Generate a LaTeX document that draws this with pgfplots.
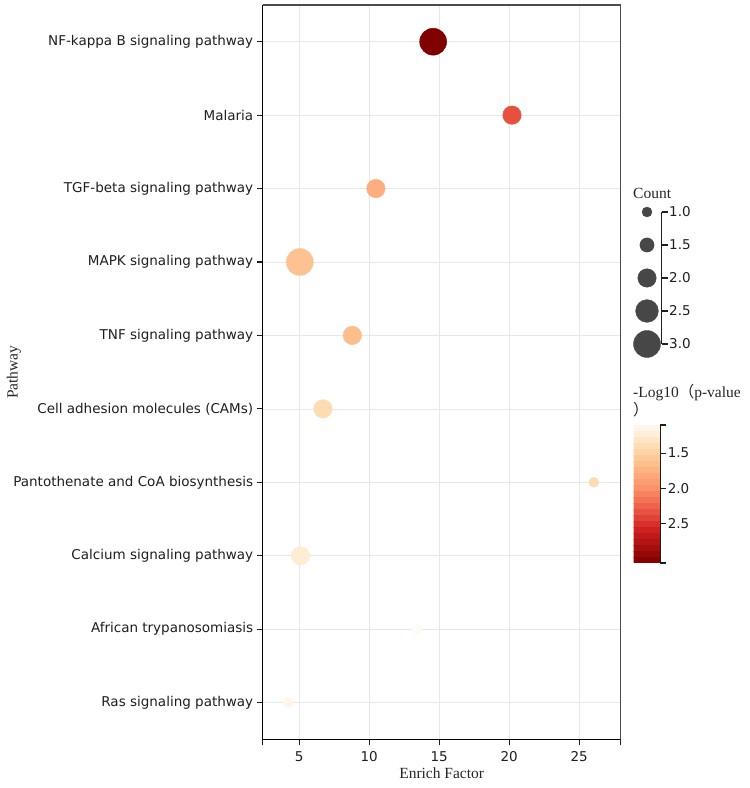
\documentclass[border=0pt]{standalone}
\usepackage{pgfplots}
\pgfplotsset{compat=1.18}
\usepackage{fontspec}
\setmainfont{Liberation Serif}
\newfontfamily\dejavu{DejaVu Sans}
\newfontfamily\cjk{Noto Sans CJK SC}
\pgfplotsset{
  colormap={orrd}{rgb255(0)=(255,250,243) rgb255(30)=(254,222,180) rgb255(60)=(253,185,135) rgb255(90)=(250,145,105) rgb255(120)=(236,90,70) rgb255(150)=(205,30,30) rgb255(196)=(128,0,0)}
}
\definecolor{gridc}{RGB}{232,232,232}
\definecolor{tickc}{RGB}{30,30,30}
\begin{document}
\begin{tikzpicture}
\path[use as bounding box] (0,0) rectangle (750pt,788pt);
\begin{axis}[
  at={(262.7pt,48.7pt)}, anchor=south west,
  scale only axis, width=358pt, height=734.3pt,
  xmin=2.4, xmax=27.96, ymin=-0.5, ymax=9.5,
  axis lines*=left,
  axis line style={black, line width=1.4pt},
  xtick={5,10,15,20,25},
  extra x ticks={2.4,27.96}, extra x tick labels={},
  extra x tick style={grid=none},
  ytick={0,...,9},
  yticklabels={Ras signaling pathway, African trypanosomiasis, Calcium signaling pathway, Pantothenate and CoA biosynthesis, Cell adhesion molecules (CAMs), TNF signaling pathway, MAPK signaling pathway, TGF-beta signaling pathway, Malaria, NF-kappa B signaling pathway},
  grid=major, grid style={gridc, line width=0.6pt},
  tick align=outside,
  major tick length=6pt,
  tick style={tickc, line width=1.2pt},
  ticklabel style={font=\dejavu\fontsize{13.5}{15}\selectfont, text=tickc},
  xticklabel style={yshift=-3pt},
  /pgf/number format/assume math mode=true,
  xlabel={Enrich Factor}, ylabel={Pathway},
  every axis x label/.style={at={(rel axis cs:0.5,0)}, yshift=-34pt, anchor=center, font=\fontsize{15.5}{17}\selectfont, text=black!85},
  every axis y label/.style={at={(rel axis cs:0,0.5)}, xshift=-248.7pt, rotate=90, anchor=center, font=\fontsize{15.5}{17}\selectfont, text=black!85},
  colormap name=orrd,
  point meta min=1.1, point meta max=3.06,
  colorbar sampled,
  colorbar style={
    at={(parent axis.north east)}, anchor=north west,
    xshift=4.3pt, yshift=-420pt,
    scale only axis, width=26.7pt, height=138pt,
    samples=24,
    y dir=reverse,
    ytick={1.5,2,2.5},
    extra y ticks={1.1,3.06}, extra y tick labels={},
    ytick pos=right,
    axis line style={draw=none},
    tick align=outside, major tick length=6pt,
    tick style={tickc, line width=1.2pt},
    yticklabel style={font=\dejavu\fontsize{13.5}{15}\selectfont, text=tickc, xshift=-2pt, /pgf/number format/fixed, /pgf/number format/precision=1, /pgf/number format/fixed zerofill},
    /pgf/number format/assume math mode=true,
    extra description/.code={\draw[tickc, line width=1.2pt] (rel axis cs:1,0)--(rel axis cs:1,1);},
  },
  clip=false,
]
\addplot[scatter, only marks, mark=*,
  point meta=explicit,
  scatter/use mapped color={draw=mapped color, fill=mapped color},
  visualization depends on={\thisrow{c} \as \cnt},
  scatter/@pre marker code/.append style={/tikz/mark size={0.75+4.25*\cnt}}]
  table[x=x, y=y, meta=p] {
x y c p
14.57 9 3 3.06
20.2 8 2 2.35
10.48 7 2 1.78
5.05 6 3 1.63
8.8 5 2 1.66
6.7 4 2 1.42
26.05 3 1 1.42
5.1 2 2 1.25
13.4 1 1 1.1
4.26 0 1 1.15
};
\draw[black!70, line width=1.4pt] (rel axis cs:0,1) -- (rel axis cs:1,1) -- (rel axis cs:1,0);
\end{axis}
% Count size legend
\begin{axis}[
  at={(661.7pt,576pt)}, anchor=north east,
  scale only axis, width=30pt, height=132pt,
  xmin=-30, xmax=0, ymin=1, ymax=3, y dir=reverse,
  axis y line*=right, axis x line=none,
  axis line style={tickc, line width=1.2pt},
  ytick={1,1.5,2,2.5,3},
  tick align=outside, major tick length=6pt,
  tick style={tickc, line width=1.2pt},
  yticklabel style={font=\dejavu\fontsize{13.5}{15}\selectfont, text=tickc, xshift=-2pt, /pgf/number format/fixed, /pgf/number format/precision=1, /pgf/number format/fixed zerofill},
  /pgf/number format/assume math mode=true,
  clip=false,
]
\addplot[only marks, mark=*, color=black!72,
  visualization depends on={\thisrow{c} \as \cnt},
  scatter, scatter/use mapped color={draw=black!72, fill=black!72},
  point meta=explicit,
  scatter/@pre marker code/.append style={/tikz/mark size={0.75+4.25*\cnt}}]
  table[x=x, y=c, meta=c] {
x c
-14.7 1
-14.7 1.5
-14.7 2
-14.7 2.5
-14.7 3
};
\end{axis}
\node[anchor=west, font=\fontsize{15.5}{17}\selectfont, text=black!85, inner sep=0pt] at (633pt,595pt) {Count};
\node[anchor=west, font=\fontsize{15.5}{17}\selectfont, text=black!85, inner sep=0pt] at (633pt,395pt) {-Log10{\cjk （}p-value};
\node[anchor=west, font=\fontsize{15.5}{17}\selectfont, text=black!85, inner sep=0pt] at (633pt,378pt) {{\cjk ）}};
\end{tikzpicture}
\end{document}
